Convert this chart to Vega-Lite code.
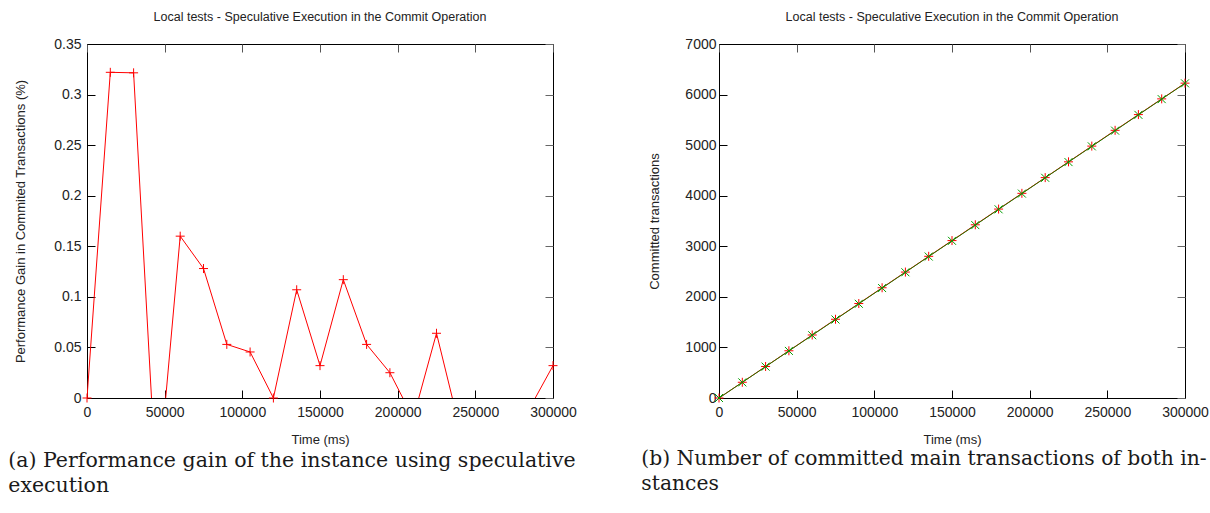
{
  "$schema": "https://vega.github.io/schema/vega-lite/v6.json",
  "background": "white",
  "padding": {"left": 8, "top": 10, "right": 0, "bottom": 0},
  "config": {
    "view": {"stroke": "#000000", "strokeWidth": 1},
    "axis": {
      "grid": false,
      "domain": false,
      "tickColor": "#000000",
      "tickSize": -8,
      "labelFlush": false,
      "labelOverlap": false,
      "labelFont": "Liberation Sans",
      "labelFontSize": 14,
      "labelColor": "#222222",
      "titleFont": "Liberation Sans",
      "titleFontSize": 13,
      "titleFontWeight": "normal",
      "titleColor": "#222222"
    },
    "title": {
      "font": "Liberation Sans",
      "fontSize": 12.5,
      "fontWeight": "normal",
      "color": "#222222"
    }
  },
  "datasets": {
    "gain": [
      {"time": 0, "gain": 0},
      {"time": 15000, "gain": 0.322},
      {"time": 30000, "gain": 0.3215},
      {"time": 45000, "gain": -0.097},
      {"time": 60000, "gain": 0.16},
      {"time": 75000, "gain": 0.128},
      {"time": 90000, "gain": 0.053},
      {"time": 105000, "gain": 0.0455},
      {"time": 120000, "gain": 0},
      {"time": 135000, "gain": 0.107},
      {"time": 150000, "gain": 0.032},
      {"time": 165000, "gain": 0.117},
      {"time": 180000, "gain": 0.053},
      {"time": 195000, "gain": 0.025},
      {"time": 210000, "gain": -0.02},
      {"time": 225000, "gain": 0.064},
      {"time": 240000, "gain": -0.03},
      {"time": 255000, "gain": -0.05},
      {"time": 270000, "gain": -0.04},
      {"time": 285000, "gain": -0.01},
      {"time": 300000, "gain": 0.032}
    ],
    "commits": [
      {"time": 0, "speculative": 0, "baseline": 0},
      {"time": 15000, "speculative": 311, "baseline": 309},
      {"time": 30000, "speculative": 623, "baseline": 620},
      {"time": 45000, "speculative": 934, "baseline": 931},
      {"time": 60000, "speculative": 1246, "baseline": 1241},
      {"time": 75000, "speculative": 1557, "baseline": 1552},
      {"time": 90000, "speculative": 1868, "baseline": 1863},
      {"time": 105000, "speculative": 2180, "baseline": 2174},
      {"time": 120000, "speculative": 2490, "baseline": 2486},
      {"time": 135000, "speculative": 2802, "baseline": 2797},
      {"time": 150000, "speculative": 3113, "baseline": 3108},
      {"time": 165000, "speculative": 3425, "baseline": 3419},
      {"time": 180000, "speculative": 3736, "baseline": 3731},
      {"time": 195000, "speculative": 4047, "baseline": 4042},
      {"time": 210000, "speculative": 4358, "baseline": 4354},
      {"time": 225000, "speculative": 4670, "baseline": 4665},
      {"time": 240000, "speculative": 4981, "baseline": 4976},
      {"time": 255000, "speculative": 5293, "baseline": 5287},
      {"time": 270000, "speculative": 5604, "baseline": 5599},
      {"time": 285000, "speculative": 5915, "baseline": 5910},
      {"time": 300000, "speculative": 6226, "baseline": 6222}
    ]
  },
  "spacing": 64,
  "hconcat": [
    {
      "title": {
        "text": ["(a) Performance gain of the instance using speculative", "execution"],
        "orient": "bottom",
        "anchor": "start",
        "font": "DejaVu Serif",
        "fontSize": 20.5,
        "lineHeight": 25,
        "color": "#1a1a1a",
        "offset": -46,
        "dx": -6
      },
      "vconcat": [
        {
          "width": 466,
          "height": 354,
          "title": {"text": "Local tests - Speculative Execution in the Commit Operation", "offset": 14},
          "data": {"name": "gain"},
          "layer": [
            {
              "mark": {"type": "line", "color": "#ff0000", "strokeWidth": 1, "clip": true},
              "encoding": {
                "x": {"field": "time", "type": "quantitative", "scale": {"domain": [0, 300000], "nice": false},
                      "axis": {"title": "Time (ms)", "format": "d", "values": [0, 50000, 100000, 150000, 200000, 250000, 300000], "labelPadding": 15, "titlePadding": 14}},
                "y": {"field": "gain", "type": "quantitative", "scale": {"domain": [0, 0.35], "nice": false},
                      "axis": {"title": "Performance Gain in Commited Transactions (%)", "format": "~g", "values": [0, 0.05, 0.1, 0.15, 0.2, 0.25, 0.3, 0.35], "labelPadding": 14, "titlePadding": 26}}
              }
            },
            {
              "transform": [{"filter": "datum.gain >= 0"}],
              "mark": {"type": "point", "shape": "M-1,0L1,0M0,-1L0,1", "filled": false, "color": "#ff0000", "strokeWidth": 1, "size": 81, "opacity": 1},
              "encoding": {
                "x": {"field": "time", "type": "quantitative", "axis": null},
                "y": {"field": "gain", "type": "quantitative", "axis": null}
              }
            },
            {
              "mark": {"type": "rule", "opacity": 0},
              "encoding": {
                "x": {"field": "time", "type": "quantitative",
                      "axis": {"orient": "top", "labels": false, "title": null, "tickColor": "#555555", "values": [0, 50000, 100000, 150000, 200000, 250000, 300000]}},
                "y": {"field": "gain", "type": "quantitative",
                      "axis": {"orient": "right", "labels": false, "title": null, "tickColor": "#666666", "values": [0, 0.05, 0.1, 0.15, 0.2, 0.25, 0.3, 0.35]}}
              }
            }
          ],
          "resolve": {"axis": {"x": "independent", "y": "independent"}}
        }
      ]
    },
    {
      "title": {
        "text": ["(b) Number of committed main transactions of both in-", "stances"],
        "orient": "bottom",
        "anchor": "start",
        "font": "DejaVu Serif",
        "fontSize": 20.3,
        "lineHeight": 25,
        "color": "#1a1a1a",
        "offset": 2,
        "dx": -7
      },
      "vconcat": [
        {
          "width": 466,
          "height": 354,
          "title": {"text": "Local tests - Speculative Execution in the Commit Operation", "offset": 14},
          "data": {"name": "commits"},
          "layer": [
            {
              "mark": {"type": "line", "color": "#ff0000", "strokeWidth": 1},
              "encoding": {
                "x": {"field": "time", "type": "quantitative", "scale": {"domain": [0, 300000], "nice": false},
                      "axis": {"title": "Time (ms)", "format": "d", "values": [0, 50000, 100000, 150000, 200000, 250000, 300000], "labelPadding": 15, "titlePadding": 14}},
                "y": {"field": "speculative", "type": "quantitative", "scale": {"domain": [0, 7000], "nice": false},
                      "axis": {"title": "Committed transactions", "format": "d", "values": [0, 1000, 2000, 3000, 4000, 5000, 6000, 7000], "labelPadding": 11, "titlePadding": 23}}
              }
            },
            {
              "mark": {"type": "point", "shape": "M-1,0L1,0M0,-1L0,1", "filled": false, "color": "#ff0000", "strokeWidth": 1, "size": 81, "opacity": 1},
              "encoding": {
                "x": {"field": "time", "type": "quantitative", "axis": null},
                "y": {"field": "speculative", "type": "quantitative", "axis": null}
              }
            },
            {
              "mark": {"type": "line", "color": "#1f7a00", "strokeWidth": 1},
              "encoding": {
                "x": {"field": "time", "type": "quantitative", "axis": null},
                "y": {"field": "baseline", "type": "quantitative", "axis": null}
              }
            },
            {
              "mark": {"type": "point", "shape": "M-1,-1L1,1M-1,1L1,-1", "filled": false, "color": "#009e00", "strokeWidth": 1, "size": 64, "opacity": 1},
              "encoding": {
                "x": {"field": "time", "type": "quantitative", "axis": null},
                "y": {"field": "baseline", "type": "quantitative", "axis": null}
              }
            },
            {
              "mark": {"type": "rule", "opacity": 0},
              "encoding": {
                "x": {"field": "time", "type": "quantitative",
                      "axis": {"orient": "top", "labels": false, "title": null, "tickColor": "#555555", "values": [0, 50000, 100000, 150000, 200000, 250000, 300000]}},
                "y": {"field": "speculative", "type": "quantitative",
                      "axis": {"orient": "right", "labels": false, "title": null, "tickColor": "#666666", "values": [0, 1000, 2000, 3000, 4000, 5000, 6000, 7000]}}
              }
            }
          ],
          "resolve": {"axis": {"x": "independent", "y": "independent"}}
        }
      ]
    }
  ]
}
